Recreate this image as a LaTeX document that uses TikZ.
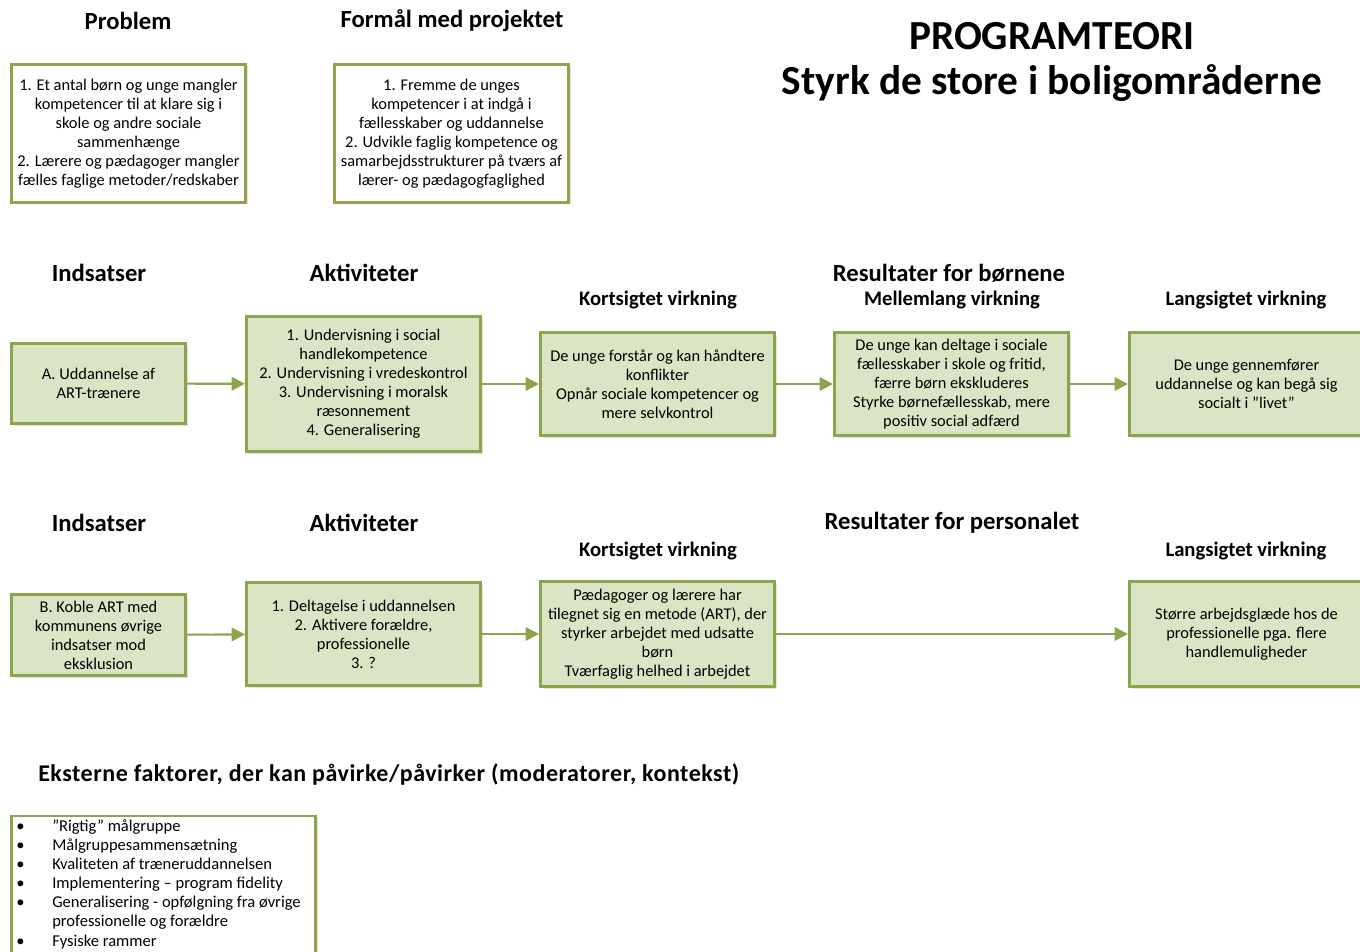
\documentclass[tikz,border=0pt]{standalone}
\usepackage{fontspec}
\setmainfont{Carlito}
\usetikzlibrary{arrows.meta,shadows}
\definecolor{boxline}{RGB}{138,165,74}
\definecolor{boxfill}{RGB}{218,229,197}
\begin{document}
\begin{tikzpicture}[x=0.75pt,y=-0.75pt,
  base/.style={draw=boxline,line width=2.2pt,align=center,inner sep=2pt,
    font=\fontsize{12.3}{14.3}\selectfont,
    drop shadow={shadow xshift=1.5pt,shadow yshift=-1.5pt,fill=black!22}},
  gbox/.style={base,fill=boxfill},
  wbox/.style={base,fill=white},
  arr/.style={draw=boxline,line width=1.6pt,-{Triangle[length=10pt,width=10pt]}},
  head/.style={font=\fontsize{18.5}{21}\bfseries\selectfont,inner sep=0pt},
  subhead/.style={font=\fontsize{15.5}{18}\bfseries\selectfont,inner sep=0pt},
  title/.style={font=\fontsize{31}{33.75}\bfseries\selectfont,align=center,inner sep=0pt}]
\useasboundingbox (0,0) rectangle (1360,952);
\clip (0,0) rectangle (1360,952);

% headings top
\node[head] (hprob) at (128,21) {Problem};
\node[head] (hform) at (452,21) {Formål med projektet};
\node[title] (title) at (1052,62) {PROGRAMTEORI\\Styrk de store i boligområderne};

\node[wbox,minimum width=175.5pt,minimum height=103.5pt] (prob) at (128.5,133.5)
 {1. Et antal børn og unge mangler\\kompetencer til at klare sig i\\skole og andre sociale\\sammenhænge\\2. Lærere og pædagoger mangler\\fælles faglige metoder/redskaber};
\node[wbox,minimum width=175.5pt,minimum height=103.5pt] (form) at (451.5,133.5)
 {1. Fremme de unges\\kompetencer i at indgå i\\fællesskaber og uddannelse\\2. Udvikle faglig kompetence og\\samarbejdsstrukturer på tværs af\\lærer- og pædagogfaglighed};

% row 1
\node[head] (hind1) at (99,273) {Indsatser};
\node[head] (hakt1) at (364,273) {Aktiviteter};
\node[head] (hres1) at (949,273) {Resultater for børnene};
\node[subhead] (hkort1) at (658,300) {Kortsigtet virkning};
\node[subhead] (hmel1) at (952,300) {Mellemlang virkning};
\node[subhead] (hlang1) at (1246,300) {Langsigtet virkning};

\node[gbox,minimum width=130.5pt,minimum height=60pt] (a) at (98.5,383.5)
 {A. Uddannelse af\\ART-trænere};
\node[gbox,minimum width=175.5pt,minimum height=101.25pt] (akt1) at (363.5,384)
 {1. Undervisning i social\\handlekompetence\\2. Undervisning i vredeskontrol\\3. Undervisning i moralsk\\ræsonnement\\4. Generalisering};
\node[gbox,minimum width=175.5pt,minimum height=77.25pt] (kort1) at (657.5,384)
 {De unge forstår og kan håndtere\\konflikter\\Opnår sociale kompetencer og\\mere selvkontrol};
\node[gbox,minimum width=175.5pt,minimum height=77.25pt] (mel1) at (951.5,384)
 {De unge kan deltage i sociale\\fællesskaber i skole og fritid,\\færre børn ekskluderes\\Styrke børnefællesskab, mere\\positiv social adfærd};
\node[gbox,minimum width=175.5pt,minimum height=77.25pt] (lang1) at (1246.5,384)
 {De unge gennemfører\\uddannelse og kan begå sig\\socialt i ”livet”};

\draw[arr] (a) -- (akt1);
\draw[arr] (akt1) -- (kort1);
\draw[arr] (kort1) -- (mel1);
\draw[arr] (mel1) -- (lang1);

% row 2
\node[head] (hind2) at (99,523) {Indsatser};
\node[head] (hakt2) at (364,523) {Aktiviteter};
\node[head] (hres2) at (952,523) {Resultater for personalet};
\node[subhead] (hkort2) at (658,551) {Kortsigtet virkning};
\node[subhead] (hlang2) at (1246,551) {Langsigtet virkning};

\node[gbox,minimum width=130.5pt,minimum height=60.75pt] (b) at (98.5,635)
 {B. Koble ART med\\kommunens øvrige\\indsatser mod\\eksklusion};
\node[gbox,minimum width=175.5pt,minimum height=77.25pt] (akt2) at (363.5,634)
 {1. Deltagelse i uddannelsen\\2. Aktivere forældre,\\professionelle\\3. ?};
\node[gbox,minimum width=175.5pt,minimum height=78.75pt] (kort2) at (657.5,634)
 {Pædagoger og lærere har\\tilegnet sig en metode (ART), der\\styrker arbejdet med udsatte\\børn\\Tværfaglig helhed i arbejdet};
\node[gbox,minimum width=175.5pt,minimum height=78.75pt] (lang2) at (1246.5,634)
 {Større arbejdsglæde hos de\\professionelle pga. flere\\handlemuligheder};

\draw[arr] (b) -- (akt2);
\draw[arr] (akt2) -- (kort2);
\draw[arr] (kort2) -- (lang2);

% external factors
\node[inner sep=0pt,anchor=west,font=\fontsize{18}{21}\bfseries\addfontfeature{LetterSpace=2.2}\selectfont] (hext) at (38,774) {Eksterne faktorer, der kan påvirke/påvirker (moderatorer, kontekst)};
\node[wbox,minimum width=228pt,minimum height=114pt] (ext) at (163.5,892) {};
\node[anchor=north west,inner sep=0pt,font=\fontsize{12.4}{14.3}\selectfont] (extlist) at (16,818)
 {\begin{tabular}{@{}p{27pt}@{}l@{}}
 •&”Rigtig” målgruppe\\
 •&Målgruppesammensætning\\
 •&Kvaliteten af træneruddannelsen\\
 •&Implementering – program fidelity\\
 •&Generalisering - opfølgning fra øvrige\\
 &professionelle og forældre\\
 •&Fysiske rammer
 \end{tabular}};
\end{tikzpicture}
\end{document}
